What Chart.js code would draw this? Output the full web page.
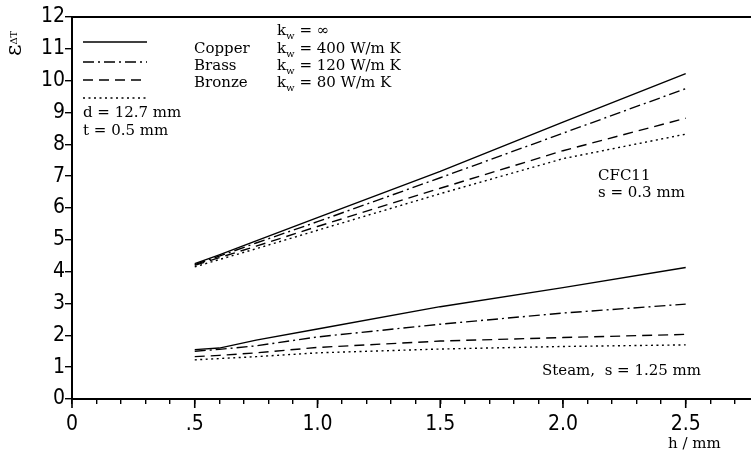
<!DOCTYPE html>
<html>
<head>
<meta charset="utf-8">
<script src="https://cdn.jsdelivr.net/npm/chart.js@4.4.0/dist/chart.umd.min.js"></script>
<style>
html,body{margin:0;padding:0;background:#fff;}
#wrap{width:751px;height:456px;position:relative;}
</style>
</head>
<body>
<div id="wrap"><canvas id="c"></canvas></div>
<script>
// ---- data ----
const h = [0.5, 0.6, 0.75, 1.0, 1.5, 2.0, 2.5];
// CFC11, s = 0.3 mm
const cfcInf     = [4.25, 4.53, 4.97, 5.70, 7.15, 8.70, 10.22];
const cfcCopper  = [4.22, 4.49, 4.90, 5.57, 6.95, 8.35, 9.75];
const cfcBrass   = [4.20, 4.44, 4.80, 5.42, 6.62, 7.80, 8.82];
const cfcBronze  = [4.15, 4.38, 4.72, 5.30, 6.45, 7.55, 8.32];
// Steam, s = 1.25 mm
const stInf      = [1.55, 1.60, 1.85, 2.20, 2.90, 3.50, 4.13];
const stCopper   = [1.50, 1.56, 1.67, 1.95, 2.35, 2.70, 2.98];
const stBrass    = [1.33, 1.37, 1.45, 1.62, 1.82, 1.93, 2.03];
const stBronze   = [1.23, 1.27, 1.33, 1.45, 1.57, 1.65, 1.70];

const xMajorLabels = {0:'0', 0.5:'.5', 1.0:'1.0', 1.5:'1.5', 2.0:'2.0', 2.5:'2.5'};
const yTicks = [0,1,2,3,4,5,6,7,8,9,10,11,12];

// ---- styles ----
const DASH = {
  solid: [],
  dashdot: [11, 4, 2, 4],
  dashed: [10, 6],
  dotted: [2, 3.5]
};
const axisFont = {family: "'DejaVu Sans Condensed','Liberation Sans Narrow','DejaVu Sans',sans-serif", size: 21};
const SERIF = "'DejaVu Serif', serif";

function pts(arr){ return h.map((x,i)=>({x:x, y:arr[i]})); }
function ds(arr, dash){
  return {data: pts(arr), borderColor:'#000', borderWidth:1.4, borderDash: dash,
          pointRadius:0, tension:0, fill:false};
}

const datasets = [
  ds(cfcInf, DASH.solid), ds(cfcCopper, DASH.dashdot), ds(cfcBrass, DASH.dashed), ds(cfcBronze, DASH.dotted),
  ds(stInf, DASH.solid), ds(stCopper, DASH.dashdot), ds(stBrass, DASH.dashed), ds(stBronze, DASH.dotted)
];

function isMajor(v){ return Math.abs(v*2 - Math.round(v*2)) < 1e-6; }
function majorLabel(v){
  const k = Math.round(v*2)/2;
  return xMajorLabels.hasOwnProperty(k) ? xMajorLabels[k] : '';
}

function drawRich(ctx, parts, x, y, size){
  let cx = x;
  for (const [t, kind] of parts){
    if (kind === 's'){
      ctx.font = Math.round(size*0.68) + 'px ' + SERIF;
      ctx.fillText(t, cx, y + size*0.25);
    } else {
      ctx.font = size + 'px ' + SERIF;
      ctx.fillText(t, cx, y);
    }
    cx += ctx.measureText(t).width;
  }
}

const annot = {
  id: 'annot',
  afterDraw(chart){
    const ctx = chart.ctx;
    const xs = chart.scales.x;
    const bottom = chart.chartArea.bottom;
    ctx.save();
    // longer major ticks on the h axis
    ctx.strokeStyle = '#000';
    ctx.lineWidth = 1.6;
    xs.ticks.forEach(t => {
      if (isMajor(t.value)){
        const px = xs.getPixelForValue(t.value);
        ctx.beginPath(); ctx.moveTo(px, bottom); ctx.lineTo(px, bottom + 9); ctx.stroke();
      }
    });
    // legend keys
    const keys = [[42, DASH.solid],[62, DASH.dashdot],[80, DASH.dashed],[98, DASH.dotted]];
    ctx.lineWidth = 1.4;
    keys.forEach(([y, d]) => {
      ctx.setLineDash(d);
      ctx.beginPath(); ctx.moveTo(83, y); ctx.lineTo(147, y); ctx.stroke();
    });
    ctx.setLineDash([]);
    // texts
    ctx.fillStyle = '#000';
    ctx.textBaseline = 'alphabetic';
    ctx.textAlign = 'left';
    const S = 15;
    drawRich(ctx, [['k','n'],['w','s'],[' = \u221E','n']], 277, 35, S);
    drawRich(ctx, [['Copper','n']], 194, 53, S);
    drawRich(ctx, [['k','n'],['w','s'],[' = 400 W/m K','n']], 277, 53, S);
    drawRich(ctx, [['Brass','n']], 194, 70, S);
    drawRich(ctx, [['k','n'],['w','s'],[' = 120 W/m K','n']], 277, 70, S);
    drawRich(ctx, [['Bronze','n']], 194, 87, S);
    drawRich(ctx, [['k','n'],['w','s'],[' = 80 W/m K','n']], 277, 87, S);
    drawRich(ctx, [['d = 12.7 mm','n']], 83, 117, S);
    drawRich(ctx, [['t = 0.5 mm','n']], 83, 135, S);
    drawRich(ctx, [['CFC11','n']], 598, 180, S);
    drawRich(ctx, [['s = 0.3 mm','n']], 598, 197, S);
    drawRich(ctx, [['Steam,  s = 1.25 mm','n']], 542, 375, S);
    drawRich(ctx, [['h / mm','n']], 668, 448, S);
    // y title  ε_ΔT (rotated)
    ctx.translate(21, 56);
    ctx.rotate(-Math.PI/2);
    ctx.font = '22px ' + SERIF;
    ctx.fillText('\u03B5', 0, 0);
    const w = ctx.measureText('\u03B5').width;
    ctx.font = '10px ' + SERIF;
    ctx.fillText('\u0394T', w, -4);
    ctx.restore();
  }
};

new Chart(document.getElementById('c'), {
  type: 'line',
  data: {datasets},
  options: {
    responsive: true,
    maintainAspectRatio: false,
    animation: false,
    layout: {padding: 0},
    plugins: {legend: {display:false}, tooltip: {enabled:false}},
    scales: {
      x: {
        type: 'linear', position: 'bottom', min: 0, max: 2.766,
        ticks: {stepSize: 0.1, includeBounds: false, autoSkip: false, maxRotation: 0, minRotation: 0,
                padding: 8, color: '#000', font: axisFont,
                callback: (v) => isMajor(v) ? majorLabel(v) : ''},
        grid: {drawOnChartArea: false, drawTicks: true, tickLength: 5, color: '#000', lineWidth: 1.4},
        border: {color: '#000', width: 2},
        afterFit(s){ s.height = 57; }
      },
      xTop: {
        type: 'linear', position: 'top', min: 0, max: 2.766,
        ticks: {display: false},
        grid: {display: true, drawOnChartArea: false, drawTicks: false},
        border: {color: '#000', width: 2},
        afterFit(s){ s.height = 17; }
      },
      y: {
        type: 'linear', position: 'left', min: 0, max: 12,
        afterBuildTicks(s){ s.ticks = yTicks.map(v => ({value: v})); },
        ticks: {stepSize: 1, padding: 0, color: '#000', font: axisFont},
        grid: {drawOnChartArea: false, drawTicks: true, tickLength: 7, color: '#000', lineWidth: 1.4},
        border: {color: '#000', width: 2},
        afterFit(s){ s.width = 72; }
      }
    }
  },
  plugins: [annot]
});
</script>
</body>
</html>
